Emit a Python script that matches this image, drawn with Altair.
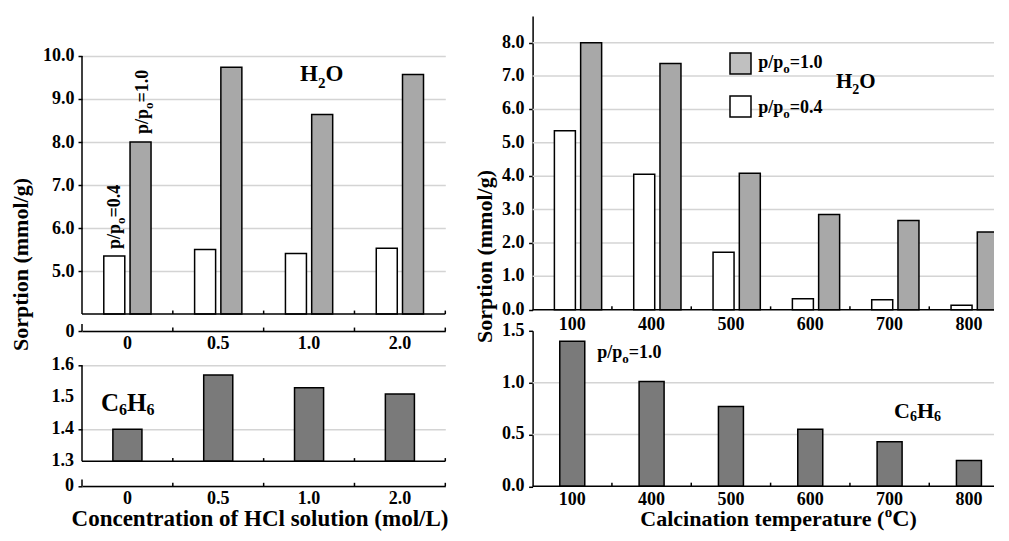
import altair as alt
import pandas as pd

# ---------------- data ----------------
conc_levels = ["0", "0.5", "1.0", "2.0"]
h2o_p04_by_conc = [5.35, 5.50, 5.41, 5.53]
h2o_p10_by_conc = [8.00, 9.74, 8.64, 9.57]
c6h6_by_conc = [1.40, 1.57, 1.53, 1.51]

calc_temps = ["100", "400", "500", "600", "700", "800"]
h2o_p04_by_temp = [5.36, 4.06, 1.72, 0.33, 0.30, 0.13]
h2o_p10_by_temp = [8.00, 7.38, 4.09, 2.85, 2.67, 2.33]
c6h6_by_temp = [1.40, 1.01, 0.77, 0.55, 0.43, 0.25]

series_keys = ["p/p0=0.4", "p/p0=1.0"]

b_ticks = [1.3, 1.4, 1.5, 1.6]
c_ticks = [0, 1, 2, 3, 4, 5, 6, 7, 8]
d_ticks = [0, 0.5, 1.0, 1.5]

# ---------------- layout / style ----------------
FONT = "Liberation Serif"
W_L, H_A, H_B = 363.3, 315, 120.7
W_R, H_C, H_D = 476, 293.7, 155.5   # right panels run past the page edge, as in the original
A_LO, A_BASE, A_HI = 3.605, 4.0, 10.93
B_LO, B_BASE, B_HI = 1.2228, 1.3, 1.6
C_HI = 8.8
GRID = "#d4d4d4"
EMPTY = alt.InlineData(values=[{"k": 0}])

ADV = {'p': 556, '/': 278, 'o': 500, '=': 570, '.': 250, 'H': 778, 'C': 722, 'O': 778,
       ' ': 250, '(': 333, ')': 333, 'a': 500, 'l': 278, 'c': 444, 'i': 278, 'n': 556,
       't': 333, 'e': 444, 'm': 833, 'r': 444, 'u': 556}


def text_w(s, size):
    return sum(ADV.get(ch, 500) for ch in s) * size / 1000.0


def rich(parts, x, y, angle=0):
    out = []
    off = 0.0
    for s, size, shift in parts:
        kw = dict(align="left", baseline="alphabetic", font=FONT, fontWeight="bold",
                  fontSize=size, color="black", dx=off, dy=shift, text=s)
        if angle:
            kw["angle"] = angle
        out.append(alt.Chart(EMPTY).mark_text(**kw).encode(x=alt.value(x), y=alt.value(y)))
        off += text_w(s, size)
    return out


def ylabels(values, texts):
    return [alt.Chart(EMPTY).mark_text(align="right", baseline="middle", font=FONT, fontWeight="bold",
                                       fontSize=18, color="black", text=t)
            .encode(x=alt.value(-8), y=alt.datum(v)) for v, t in zip(values, texts)]


def xenc(field, cats, axis, band=None):
    kw = dict(sort=cats, scale=alt.Scale(type="band", paddingInner=0, paddingOuter=0), axis=axis)
    if band is not None:
        kw["bandPosition"] = band
    return alt.X(f"{field}:N", **kw)


def boundary_ticks(field, cats, axis, levels, tick_len, with_end=True):
    out = []
    for lv in levels:
        out.append(alt.Chart(pd.DataFrame({field: cats[1:]})).mark_rule(color="black", strokeWidth=1.5)
                   .encode(x=xenc(field, cats, axis, 0), y=alt.datum(lv),
                           y2=alt.datum(lv + tick_len)))
        if with_end:
            out.append(alt.Chart(pd.DataFrame({field: cats[-1:]})).mark_rule(color="black", strokeWidth=1.5)
                       .encode(x=xenc(field, cats, axis, 1), y=alt.datum(lv),
                               y2=alt.datum(lv + tick_len)))
    return out


def vrule(y1, y2):
    return alt.Chart(EMPTY).mark_rule(color="black", strokeWidth=1.5).encode(
        x=alt.value(0), y=alt.datum(y1), y2=alt.datum(y2))


def hrule(yv, width, color="black"):
    return alt.Chart(EMPTY).mark_rule(color=color, strokeWidth=1.5).encode(
        x=alt.value(0), x2=alt.value(width), y=alt.datum(yv))


# ---------------- panel A : H2O vs HCl concentration ----------------
df_a = pd.DataFrame({
    "conc": conc_levels * 2,
    "series": [series_keys[0]] * 4 + [series_keys[1]] * 4,
    "value": h2o_p04_by_conc + h2o_p10_by_conc,
})
ax_xa = alt.Axis(title=None, ticks=False, labelPadding=3, labelAngle=0)
bars_a = alt.Chart(df_a).mark_bar(stroke="black", strokeWidth=1.5).encode(
    x=xenc("conc", conc_levels, ax_xa),
    xOffset=alt.XOffset("series:N", sort=series_keys,
                        scale=alt.Scale(paddingInner=0.2, paddingOuter=0.83)),
    y=alt.Y("value:Q", scale=alt.Scale(domain=[A_LO, A_HI], nice=False, zero=False),
            axis=alt.Axis(values=[A_LO, 5, 6, 7, 8, 9, 10], labelOverlap=False, labelPadding=4,
                          labelExpr="datum.value < 4 ? '0' : format(datum.value, '.1f')",
                          domain=False, grid=True, title="Sorption (mmol/g)",
                          titleY=248, titlePadding=10.5)),
    y2=alt.datum(A_BASE),
    fill=alt.Color("series:N", scale=alt.Scale(domain=series_keys, range=["white", "#a8a8a8"]),
                   legend=None),
)
layers_a = [bars_a, hrule(A_BASE, W_L), vrule(A_BASE, 10), vrule(A_LO, A_LO + 0.16)]
layers_a += boundary_ticks("conc", conc_levels, ax_xa, [A_BASE, A_LO], 0.08)
layers_a += rich([("H", 23, 0), ("2", 15, 7), ("O", 23, 0)], 218, 65)
layers_a += rich([("p/p", 18, 0), ("o", 13, 5), ("=0.4", 18, 0)], 38, 233, angle=270)
layers_a += rich([("p/p", 18, 0), ("o", 13, 5), ("=1.0", 18, 0)], 66, 118, angle=270)
panel_a = alt.layer(*layers_a).properties(width=W_L, height=H_A)

# ---------------- panel B : C6H6 vs HCl concentration ----------------
df_b = pd.DataFrame({"conc": conc_levels, "value": c6h6_by_conc})
ax_xb = alt.Axis(title=None, ticks=False, labelPadding=3, labelAngle=0)
bars_b = alt.Chart(df_b).mark_bar(width=alt.RelativeBandSize(0.32), fill="#7a7a7a",
                                   stroke="black", strokeWidth=1.5).encode(
    x=xenc("conc", conc_levels, ax_xb),
    y=alt.Y("value:Q", scale=alt.Scale(domain=[B_LO, B_HI], nice=False, zero=False),
            axis=alt.Axis(values=[B_LO] + b_ticks, labels=False,
                          domain=False, grid=True, title=None)),
    y2=alt.datum(B_BASE),
)
layers_b = [bars_b, hrule(B_BASE, W_L), vrule(B_BASE, B_HI), vrule(B_LO, B_LO + 0.02)]
layers_b += ylabels([B_LO] + b_ticks, ["0"] + [f"{v:.1f}" for v in b_ticks])
layers_b += boundary_ticks("conc", conc_levels, ax_xb, [B_BASE, B_LO], 0.01)
layers_b += rich([("C", 25, 0), ("6", 16, 4), ("H", 25, 0), ("6", 16, 4)], 19, 46)
layers_b.append(
    alt.Chart(EMPTY).mark_text(align="center", baseline="alphabetic", font=FONT, fontWeight="bold",
                               fontSize=23, color="black",
                               text="Concentration of HCl solution (mol/L)")
    .encode(x=alt.value(178), y=alt.value(161))
)
panel_b = alt.layer(*layers_b).properties(width=W_L, height=H_B)

# ---------------- panel C : H2O vs calcination temperature ----------------
df_c = pd.DataFrame({
    "temp": calc_temps * 2,
    "series": [series_keys[0]] * 6 + [series_keys[1]] * 6,
    "value": h2o_p04_by_temp + h2o_p10_by_temp,
})
ax_xc = alt.Axis(title=None, ticks=False, domain=False, labelPadding=6, labelAngle=0)
bars_c = alt.Chart(df_c).mark_bar(stroke="black", strokeWidth=1.5).encode(
    x=xenc("temp", calc_temps, ax_xc),
    xOffset=alt.XOffset("series:N", sort=series_keys,
                        scale=alt.Scale(paddingInner=0.22, paddingOuter=0.87)),
    y=alt.Y("value:Q", scale=alt.Scale(domain=[0, C_HI], nice=False),
            axis=alt.Axis(values=c_ticks, labels=False, grid=False,
                          title="Sorption (mmol/g)", titleY=240, titlePadding=31)),
    fill=alt.Color("series:N", scale=alt.Scale(domain=series_keys, range=["white", "#c0c0c0"]),
                   legend=None),
)
legend_c = [
    alt.Chart(EMPTY).mark_rect(fill="#c0c0c0", stroke="black", strokeWidth=1.5).encode(
        x=alt.value(197.4), x2=alt.value(218.4), y=alt.value(37), y2=alt.value(58)),
    alt.Chart(EMPTY).mark_rect(fill="white", stroke="black", strokeWidth=1.5).encode(
        x=alt.value(197.4), x2=alt.value(218.4), y=alt.value(80), y2=alt.value(101)),
]
layers_c = [hrule(v, W_R, GRID) for v in c_ticks[1:]]
layers_c += [bars_c, hrule(0, W_R)] + legend_c
layers_c += ylabels(c_ticks, [f"{v:.1f}" for v in c_ticks])
layers_c += boundary_ticks("temp", calc_temps, ax_xc, [0], 0.1, with_end=False)
layers_c += rich([("p/p", 18, 0), ("o", 13, 5), ("=1.0", 18, 0)], 225.7, 52)
layers_c += rich([("p/p", 18, 0), ("o", 13, 5), ("=0.4", 18, 0)], 225.7, 97)
layers_c += rich([("H", 21, 0), ("2", 14, 6), ("O", 21, 0)], 303.4, 72)
panel_c = alt.layer(*layers_c).properties(width=W_R, height=H_C)

# ---------------- panel D : C6H6 vs calcination temperature ----------------
df_d = pd.DataFrame({"temp": calc_temps, "value": c6h6_by_temp})
ax_xd = alt.Axis(title=None, ticks=False, domain=False, labelPadding=4, labelAngle=0)
bars_d = alt.Chart(df_d).mark_bar(width=alt.RelativeBandSize(0.315), fill="#7a7a7a",
                                   stroke="black", strokeWidth=1.5).encode(
    x=xenc("temp", calc_temps, ax_xd),
    y=alt.Y("value:Q", scale=alt.Scale(domain=[0, 1.5], nice=False),
            axis=alt.Axis(values=d_ticks, labels=False, grid=False, title=None)),
)
layers_d = [hrule(v, W_R, GRID) for v in d_ticks[1:3]]
layers_d += [bars_d, hrule(0, W_R)]
layers_d += ylabels(d_ticks, [f"{v:.1f}" for v in d_ticks])
layers_d += boundary_ticks("temp", calc_temps, ax_xd, [0], 0.035, with_end=False)
layers_d += rich([("p/p", 18, 0), ("o", 13, 5), ("=1.0", 18, 0)], 64.7, 27.5)
layers_d += rich([("C", 22, 0), ("6", 14, 3), ("H", 22, 0), ("6", 14, 3)], 361.4, 87)
layers_d += rich([("Calcination temperature (", 22, 0), ("o", 15, -9), ("C", 24, 0), (")", 22, 0)],
                 107.7, 195.5)
panel_d = alt.layer(*layers_d).properties(width=W_R, height=H_D)

# ---------------- assemble ----------------
left = alt.vconcat(panel_a, panel_b, spacing=34.3, bounds="flush")
right = alt.vconcat(panel_c, panel_d, spacing=20.8, bounds="flush")
chart = (
    alt.hconcat(left, right, spacing=23.6)
    .properties(padding={"left": 0, "top": 7, "right": -16, "bottom": 0}, background="white")
    .configure_view(stroke="transparent")
    .configure_axis(
        labelFont=FONT, labelFontSize=18, labelFontWeight="bold", labelColor="black",
        titleFont=FONT, titleFontSize=22, titleFontWeight="bold", titleColor="black",
        domainColor="black", domainWidth=1.5, tickColor="black", tickWidth=1.5, tickSize=4,
        gridColor=GRID, gridWidth=1.5, labelOverlap=False,
    )
)

chart.save("out.html", embed_options={"renderer": "svg", "actions": False})
